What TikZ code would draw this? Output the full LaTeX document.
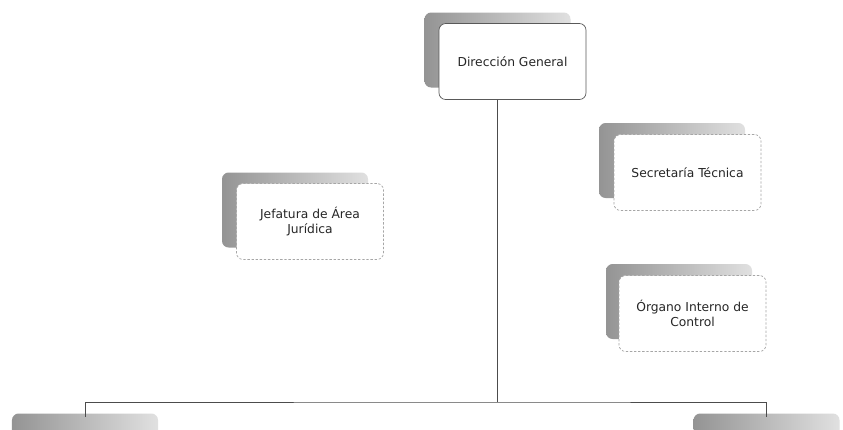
\documentclass[tikz,border=0pt]{standalone}
\usepackage{fontspec}
\setmainfont{DejaVu Sans}
\usepackage{tikz}

\begin{document}
\begin{tikzpicture}[x=0.3mm, y=-0.3mm]
    \tikzstyle{unit back} = [rectangle, rounded corners=2mm, draw=none, left color=black!42, right color=black!12, minimum width=4.38cm, minimum height=2.25cm, inner sep=0pt]
    \tikzstyle{unit front} = [rectangle, rounded corners=2mm, fill=white, draw=black!35, dash pattern=on 2pt off 1.5pt, line width=0.6pt, minimum width=4.41cm, minimum height=2.28cm, inner sep=2pt, align=center, text=black!85, font=\fontsize{10.5}{13}\selectfont]
    \tikzstyle{unit head} = [unit front, solid, draw=black!65]
    \tikzstyle{org line} = [draw=black!70, line width=0.6pt]
\clip (0,0) rectangle (843,429);
\fill[white] (0,0) rectangle (843,429);
\node[unit back] (dirback) at (497.5, 50) {};
\node[unit head] (dir) at (512.5, 61.5) {Dirección General};
\node[unit back] (jefback) at (295, 210) {};
\node[unit front] (jef) at (310, 221.5) {Jefatura de Área\\Jurídica};
\node[unit back] (secback) at (672, 160.5) {};
\node[unit front] (sec) at (687.5, 172.5) {Secretaría Técnica};
\node[unit back] (orgback) at (679, 301.5) {};
\node[unit front] (org) at (692.5, 313.5) {Órgano Interno de\\Control};
\node[unit back] (leftback) at (85, 451) {};
\node[unit back] (rightback) at (766.5, 451) {};
\coordinate (junction) at (497.5, 402);
\draw[org line] (dirback.south |- dir.south) -- (junction);
\draw[org line] ([yshift=-3]leftback.north) |- (junction) -| ([yshift=-3]rightback.north);
\end{tikzpicture}
\end{document}
